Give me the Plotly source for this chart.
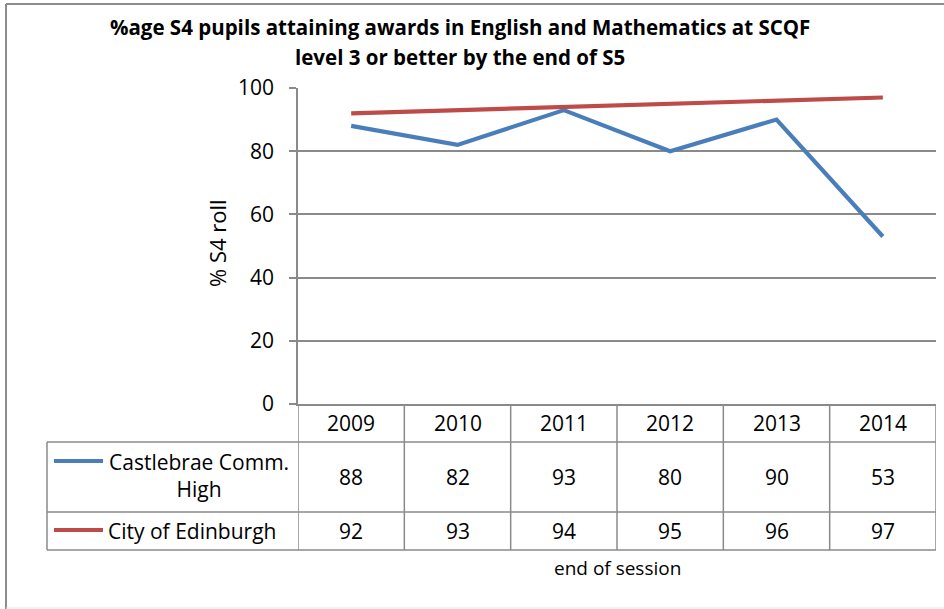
import plotly.graph_objects as go

years = ["2009", "2010", "2011", "2012", "2013", "2014"]
castlebrae = [88, 82, 93, 80, 90, 53]
edinburgh = [92, 93, 94, 95, 96, 97]
series_names = ["Castlebrae Comm.<br>High", "City of Edinburgh"]
series_colors = ["#4A7EBB", "#BE4B48"]

title_lines = ["%age S4 pupils attaining awards in English and Mathematics at SCQF",
               "level 3 or better by the end of S5"]
y_title = "% S4 roll"
x_title = "end of session"

W, H = 944, 609
PL, PR, PT, PB = 298, 936, 88, 404  # plot area in pixels


def xp(px):
    return (px - PL) / (PR - PL)


def yp(py):
    return (PB - py) / (PB - PT)


FONT = "Open Sans"
GRID = "#8a8a8a"

fig = go.Figure()
xs = list(range(len(years)))
for name, vals, col in zip(series_names, [castlebrae, edinburgh], series_colors):
    fig.add_trace(go.Scatter(x=xs, y=vals, mode="lines", name=name.replace("<br>", " "),
                             line=dict(color=col, width=4.2), showlegend=False))

shapes = []
annos = []

# outer chart border (top and left, continues past the right edge)
shapes.append(dict(type="line", xref="paper", yref="paper", x0=xp(6), x1=xp(960), y0=yp(4), y1=yp(4),
                   line=dict(color="#8c8c8c", width=2)))
shapes.append(dict(type="line", xref="paper", yref="paper", x0=xp(6), x1=xp(6), y0=yp(4), y1=yp(609),
                   line=dict(color="#8c8c8c", width=2)))
shapes.append(dict(type="line", xref="paper", yref="paper", x0=xp(6), x1=xp(960), y0=yp(608), y1=yp(608),
                   line=dict(color="#e4e4e4", width=1)))

# data table grid
row_y = [442, 512, 550]
for ry in row_y:
    shapes.append(dict(type="line", xref="paper", yref="paper", x0=xp(47), x1=xp(PR), y0=yp(ry), y1=yp(ry),
                       line=dict(color=GRID, width=1.5)))
for i in range(len(years) + 1):
    shapes.append(dict(type="line", xref="x", yref="paper", x0=i - 0.5, x1=i - 0.5, y0=yp(PB), y1=yp(550),
                       line=dict(color=GRID, width=1.5)))
shapes.append(dict(type="line", xref="paper", yref="paper", x0=xp(47), x1=xp(47), y0=yp(442), y1=yp(550),
                   line=dict(color=GRID, width=1.5)))

# header row (years)
for i, yr in enumerate(years):
    annos.append(dict(x=i, y=yp(423), xref="x", yref="paper", text=yr, showarrow=False,
                      font=dict(size=21, color="#000", family=FONT), xanchor="center", yanchor="middle"))

# data rows
row_centers = [477, 531]
for vals, rc in zip([castlebrae, edinburgh], row_centers):
    for i, v in enumerate(vals):
        annos.append(dict(x=i, y=yp(rc), xref="x", yref="paper", text=str(v), showarrow=False,
                          font=dict(size=21, color="#000", family=FONT), xanchor="center", yanchor="middle"))

# legend keys in table
key_y = [461, 530]
for col, ky in zip(series_colors, key_y):
    shapes.append(dict(type="line", xref="paper", yref="paper", x0=xp(54), x1=xp(103), y0=yp(ky), y1=yp(ky),
                       line=dict(color=col, width=4)))
annos.append(dict(x=xp(199), y=yp(476), xref="paper", yref="paper", text=series_names[0], showarrow=False,
                  align="center", font=dict(size=21, color="#000", family=FONT), xanchor="center", yanchor="middle"))
annos.append(dict(x=xp(106), y=yp(531), xref="paper", yref="paper", text=series_names[1], showarrow=False,
                  font=dict(size=21, color="#000", family=FONT), xanchor="left", yanchor="middle"))

# axis titles
annos.append(dict(x=xp(PL + (PR - PL) / 2), y=yp(568), xref="paper", yref="paper", text=x_title, showarrow=False,
                  font=dict(size=19, color="#000", family=FONT), xanchor="center", yanchor="middle"))
annos.append(dict(x=xp(217), y=yp(243), xref="paper", yref="paper", text=y_title, showarrow=False, textangle=-90,
                  font=dict(size=22, color="#000", family=FONT), xanchor="center", yanchor="middle"))

# title
for t, ty in zip(title_lines, [27, 57]):
    annos.append(dict(x=xp(460), y=yp(ty), xref="paper", yref="paper", text="<b>" + t + "</b>", showarrow=False,
                      font=dict(size=20.5, color="#000", family=FONT), xanchor="center", yanchor="middle"))

fig.update_layout(
    width=W, height=H, autosize=False,
    margin=dict(l=PL, r=W - PR, t=PT, b=H - PB, pad=0),
    paper_bgcolor="white", plot_bgcolor="white",
    shapes=shapes, annotations=annos,
    xaxis=dict(range=[-0.5, len(years) - 0.5], showticklabels=False, showgrid=False, zeroline=False,
               showline=True, linecolor=GRID, linewidth=1.5, ticks="", fixedrange=True),
    yaxis=dict(range=[0, 100], tickvals=[0, 20, 40, 60, 80, 100], showgrid=True, gridcolor=GRID, gridwidth=1.5,
               zeroline=False, showline=True, linecolor=GRID, linewidth=1.5, ticks="outside", ticklen=7,
               tickcolor=GRID, tickwidth=1.5, ticklabelstandoff=11,
               tickfont=dict(size=21, color="#000", family=FONT)),
)

fig.write_html("out.html")
